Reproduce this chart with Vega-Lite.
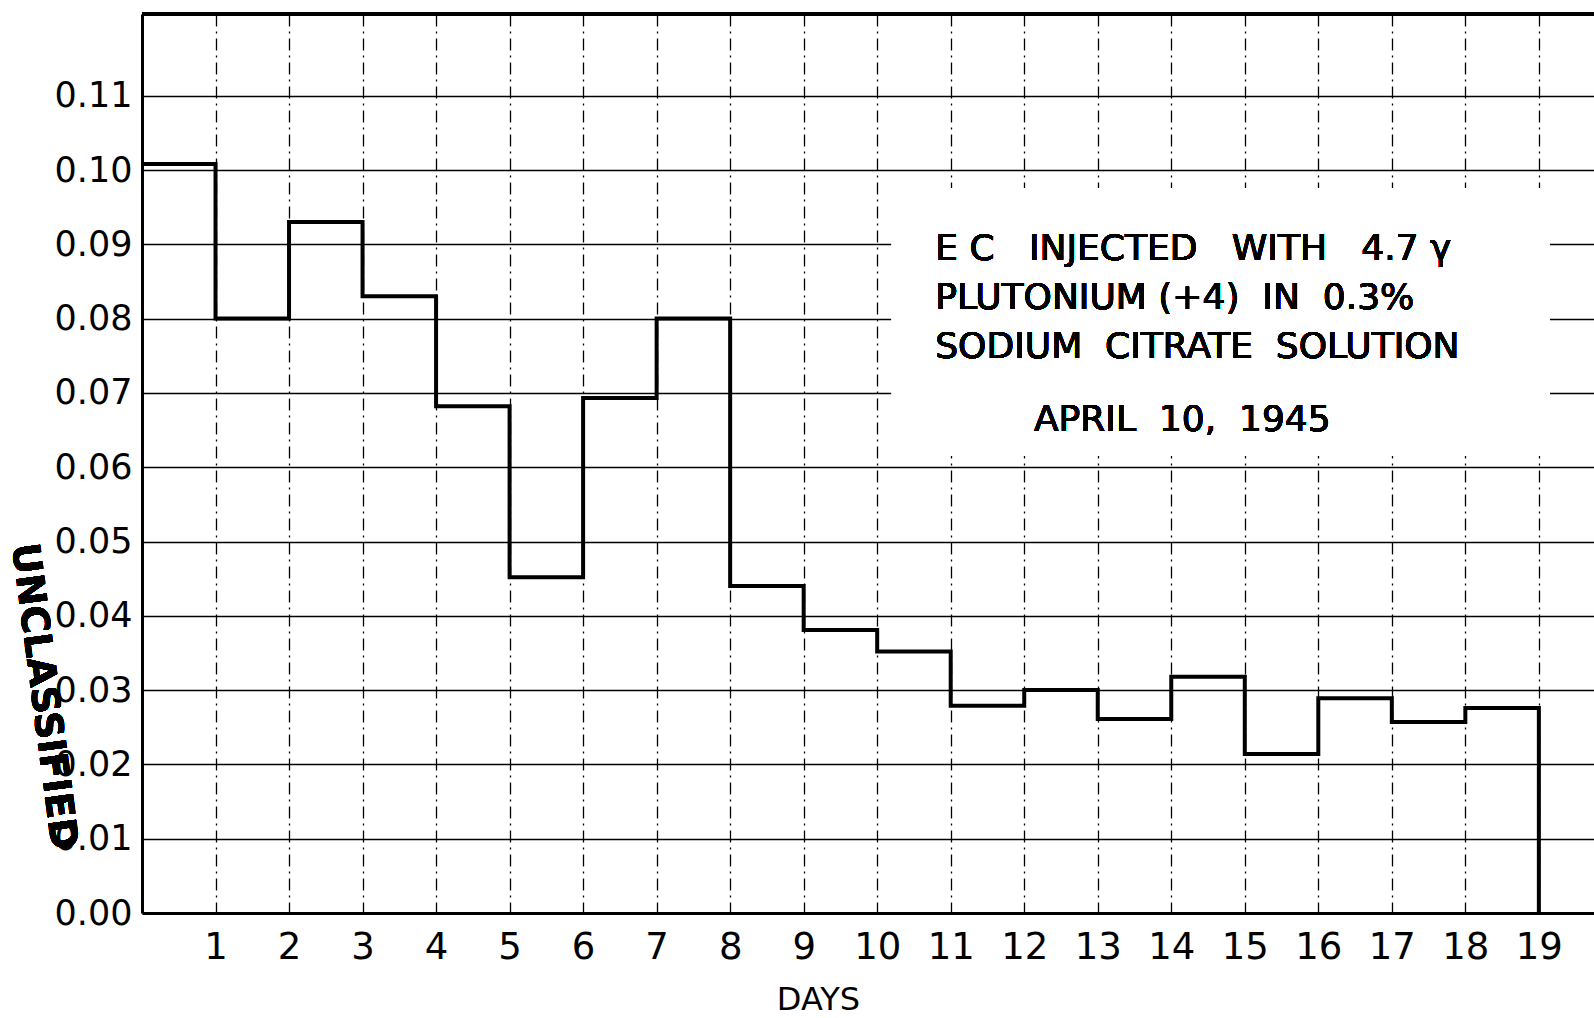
{
  "$schema": "https://vega.github.io/schema/vega-lite/v6.json",
  "width": 1452,
  "height": 899,
  "autosize": {"type": "none"},
  "padding": {"left": 142, "top": 14, "right": 0, "bottom": 105},
  "background": "white",
  "config": {"view": {"stroke": null}, "font": "DejaVu Sans"},
  "data": {
    "values": [
      {"day": 0, "value": 0.1008},
      {"day": 1, "value": 0.0800},
      {"day": 2, "value": 0.0930},
      {"day": 3, "value": 0.0830},
      {"day": 4, "value": 0.0682},
      {"day": 5, "value": 0.0452},
      {"day": 6, "value": 0.0693},
      {"day": 7, "value": 0.0800},
      {"day": 8, "value": 0.0440},
      {"day": 9, "value": 0.0381},
      {"day": 10, "value": 0.0352},
      {"day": 11, "value": 0.0279},
      {"day": 12, "value": 0.0300},
      {"day": 13, "value": 0.0261},
      {"day": 14, "value": 0.0318},
      {"day": 15, "value": 0.0214},
      {"day": 16, "value": 0.0289},
      {"day": 17, "value": 0.0257},
      {"day": 18, "value": 0.0276},
      {"day": 19, "value": 0.0}
    ]
  },
  "encoding": {
    "x": {
      "field": "day",
      "type": "quantitative",
      "scale": {"domain": [0, 19.75], "nice": false, "zero": false},
      "axis": {
        "values": [1, 2, 3, 4, 5, 6, 7, 8, 9, 10, 11, 12, 13, 14, 15, 16, 17, 18, 19],
        "ticks": false,
        "domainColor": "black",
        "domainWidth": 3,
        "grid": true,
        "gridColor": "black",
        "gridOpacity": 1,
        "gridWidth": 1.3,
        "gridDash": [12, 5, 2, 5],
        "labelFontSize": 37,
        "labelColor": "black",
        "labelPadding": 16,
        "labelFont": "DejaVu Sans",
        "title": "DAYS",
        "titleFont": "DejaVu Sans",
        "titleFontSize": 32,
        "titleFontWeight": "normal",
        "titleColor": "black",
        "titleX": 676,
        "titleY": 96,
        "titleBaseline": "alphabetic"
      }
    },
    "y": {
      "field": "value",
      "type": "quantitative",
      "scale": {"domain": [0, 0.121], "nice": false, "zero": false},
      "axis": {
        "values": [0, 0.01, 0.02, 0.03, 0.04, 0.05, 0.06, 0.07, 0.08, 0.09, 0.10, 0.11],
        "format": ".2f",
        "ticks": false,
        "domainColor": "black",
        "domainWidth": 3,
        "grid": true,
        "gridColor": "black",
        "gridOpacity": 1,
        "gridWidth": 1.6,
        "labelFontSize": 35,
        "labelColor": "black",
        "labelPadding": 10,
        "labelFont": "DejaVu Sans",
        "title": null
      }
    }
  },
  "layer": [
    {
      "mark": {"type": "rect", "fill": "white"},
      "encoding": {
        "x": {"datum": 10.2},
        "x2": {"datum": 19.15},
        "y": {"datum": 0.0615},
        "y2": {"datum": 0.0975}
      }
    },
    {
      "mark": {"type": "rule", "color": "black", "strokeWidth": 3},
      "encoding": {"x": null, "y": {"datum": 0.121}}
    },
    {
      "mark": {"type": "line", "interpolate": "step-after", "color": "black", "strokeWidth": 4}
    },
    {
      "mark": {"type": "text", "align": "left", "baseline": "alphabetic", "fontSize": 36, "lineHeight": 49, "font": "DejaVu Sans", "color": "black"},
      "encoding": {
        "x": {"datum": 10.79},
        "y": {"datum": 0.0879},
        "text": {"value": ["E C\u00a0\u00a0 INJECTED\u00a0\u00a0 WITH\u00a0\u00a0 4.7 γ", "PLUTONIUM (+4)\u00a0 IN\u00a0 0.3%", "SODIUM\u00a0 CITRATE\u00a0 SOLUTION"]}
      }
    },
    {
      "mark": {"type": "text", "align": "center", "baseline": "alphabetic", "fontSize": 36, "font": "DejaVu Sans", "color": "black"},
      "encoding": {
        "x": {"datum": 14.15},
        "y": {"datum": 0.0649},
        "text": {"value": "APRIL\u00a0 10,\u00a0 1945"}
      }
    },
    {
      "mark": {"type": "text", "align": "center", "baseline": "middle", "fontSize": 38, "fontWeight": "bold", "angle": 82.5, "font": "DejaVu Sans", "color": "black"},
      "encoding": {
        "x": {"datum": -1.347},
        "y": {"datum": 0.0291},
        "text": {"value": "UNCLASSIFIED"}
      }
    }
  ]
}
